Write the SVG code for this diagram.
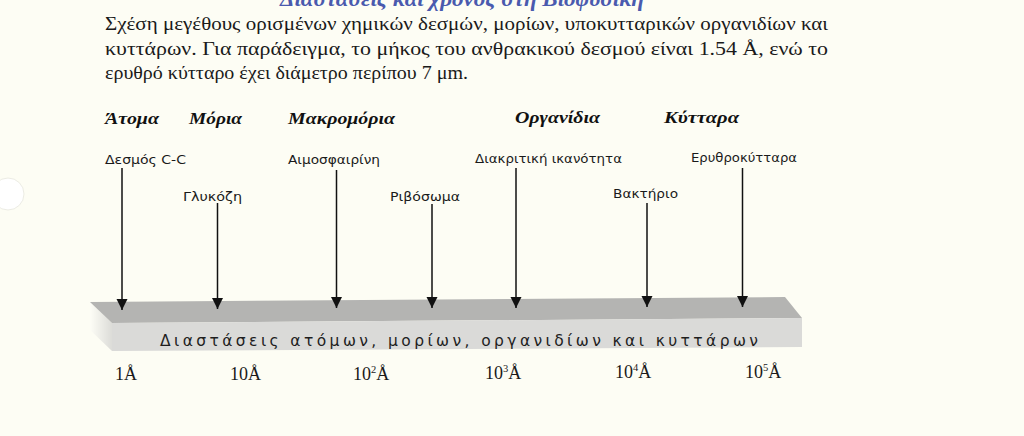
<svg xmlns="http://www.w3.org/2000/svg" width="1024" height="436" viewBox="0 0 1024 436">
<defs>
<style>
.title{font-family:"Liberation Serif",serif;font-size:21px;font-weight:bold;font-style:italic;fill:#4a5aae}
.para{font-family:"Liberation Serif",serif;font-size:18px;fill:#1a1a1a}
.cat{font-family:"Liberation Serif",serif;font-size:16px;font-weight:bold;font-style:italic;fill:#111}
.item{font-family:"DejaVu Sans","Liberation Sans",sans-serif;font-size:13px;fill:#1a1a1a}
.bar{font-family:"DejaVu Sans","Liberation Sans",sans-serif;font-size:15.5px;fill:#1e1e1e}
.scale{font-family:"Liberation Serif",serif;font-size:18px;fill:#1a1a1a}
.sup{font-size:10.5px}
.conn{stroke:#111;stroke-width:1.5;fill:none;marker-end:url(#arr)}
</style>
<marker id="arr" markerUnits="userSpaceOnUse" markerWidth="12" markerHeight="12" viewBox="0 0 12 12" refX="11" refY="6" orient="auto">
<path d="M0,0.5 L11,6 L0,11.5 Z" fill="#111"/>
</marker>
<linearGradient id="side" x1="0" y1="0" x2="1" y2="0">
<stop offset="0" stop-color="#fdfdf6"/>
<stop offset="1" stop-color="#dcdcd8"/>
</linearGradient>
</defs>
<rect width="1024" height="436" fill="#fdfdf4"/>
<circle cx="8" cy="194" r="16" fill="#ffffff" stroke="#ecece4" stroke-width="1"/>
<g id="title"><text class="title" x="462" y="6" text-anchor="middle" textLength="364" lengthAdjust="spacingAndGlyphs">Διαστάσεις και χρόνος στη Βιοφυσική</text></g>
<g id="caption">
<text class="para" x="105" y="30" textLength="723" lengthAdjust="spacingAndGlyphs">Σχέση μεγέθους ορισμένων χημικών δεσμών, μορίων, υποκυτταρικών οργανιδίων και</text>
<text class="para" x="105" y="55" textLength="723" lengthAdjust="spacingAndGlyphs">κυττάρων. Για παράδειγμα, το μήκος του ανθρακικού δεσμού είναι 1.54 Å, ενώ το</text>
<text class="para" x="105" y="79" textLength="363" lengthAdjust="spacingAndGlyphs">ερυθρό κύτταρο έχει διάμετρο περίπου 7 μm.</text>
</g>
<g id="bar3d">
<polygon points="90,302 112,323 112,351 90,330" fill="url(#side)"/>
<polygon points="90,302 785,297 802,318 112,323" fill="#b4b4b2"/>
<polygon points="112,323 802,318 802,347 112,351" fill="#dadad8"/>
<text class="bar" x="160" y="346" textLength="598" lengthAdjust="spacing">Διαστάσεις ατόμων, μορίων, οργανιδίων και κυττάρων</text>
</g>
<g id="categories">
<text id="cat-atoma" class="cat" x="105" y="124" textLength="54" lengthAdjust="spacingAndGlyphs">Άτομα</text>
<text id="cat-moria" class="cat" x="189" y="124" textLength="53" lengthAdjust="spacingAndGlyphs">Μόρια</text>
<text id="cat-makro" class="cat" x="288" y="124" textLength="107" lengthAdjust="spacingAndGlyphs">Μακρομόρια</text>
<text id="cat-organ" class="cat" x="515" y="123" textLength="85" lengthAdjust="spacingAndGlyphs">Οργανίδια</text>
<text id="cat-kyttara" class="cat" x="664" y="123" textLength="75" lengthAdjust="spacingAndGlyphs">Κύτταρα</text>
</g>
<g id="node-desmos"><text class="item" x="105" y="164" textLength="81" lengthAdjust="spacingAndGlyphs">Δεσμός C-C</text></g>
<g id="node-glykozi"><text class="item" x="183" y="201" textLength="59" lengthAdjust="spacingAndGlyphs">Γλυκόζη</text></g>
<g id="node-aimo"><text class="item" x="288" y="164" textLength="92" lengthAdjust="spacingAndGlyphs">Αιμοσφαιρίνη</text></g>
<g id="node-ribo"><text class="item" x="390" y="201" textLength="70" lengthAdjust="spacingAndGlyphs">Ριβόσωμα</text></g>
<g id="node-diakr"><text class="item" x="475" y="163" textLength="147" lengthAdjust="spacingAndGlyphs">Διακριτική ικανότητα</text></g>
<g id="node-bakt"><text class="item" x="613" y="198" textLength="65" lengthAdjust="spacingAndGlyphs">Βακτήριο</text></g>
<g id="node-eryth"><text class="item" x="691" y="162" textLength="106" lengthAdjust="spacingAndGlyphs">Ερυθροκύτταρα</text></g>
<g id="connectors">
<line class="conn" x1="122" y1="168" x2="122" y2="310"/>
<line class="conn" x1="217.5" y1="203" x2="217.5" y2="309"/>
<line class="conn" x1="336.5" y1="170" x2="336.5" y2="308"/>
<line class="conn" x1="432" y1="204" x2="432" y2="308"/>
<line class="conn" x1="516" y1="168" x2="516" y2="308"/>
<line class="conn" x1="647" y1="203" x2="647" y2="307"/>
<line class="conn" x1="742.5" y1="168" x2="742.5" y2="307"/>
</g>
<g id="scale">
<text class="scale" x="115" y="380">1Å</text>
<text class="scale" x="230" y="380">10Å</text>
<text class="scale" x="353" y="380">10<tspan class="sup" dy="-7">2</tspan><tspan dy="7">Å</tspan></text>
<text class="scale" x="485" y="379">10<tspan class="sup" dy="-7">3</tspan><tspan dy="7">Å</tspan></text>
<text class="scale" x="615" y="378">10<tspan class="sup" dy="-7">4</tspan><tspan dy="7">Å</tspan></text>
<text class="scale" x="745" y="378">10<tspan class="sup" dy="-7">5</tspan><tspan dy="7">Å</tspan></text>
</g>
</svg>
